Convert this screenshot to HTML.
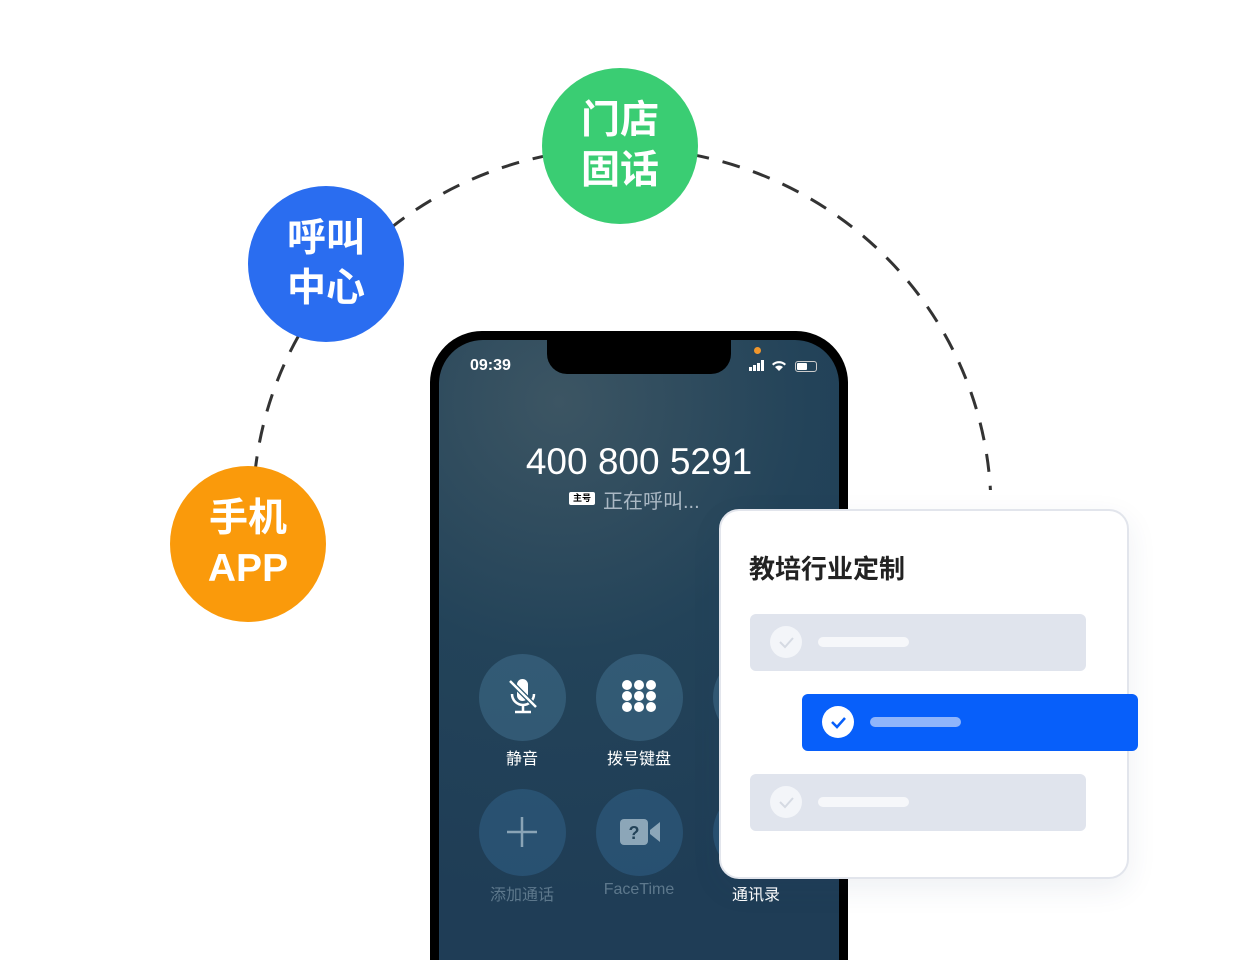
<!DOCTYPE html>
<html style="margin:0;width:1240px;height:960px;overflow:hidden"><head><meta charset="utf-8"><style>
body{margin:0;width:1240px;height:960px;background:#fff;position:relative;overflow:hidden;font-family:"Liberation Sans","Noto Sans CJK SC",sans-serif}
.ab{position:absolute}
.c{position:absolute;border-radius:50%;color:#fff;font-weight:bold;font-size:39px;line-height:50px;text-align:center;display:flex;align-items:center;justify-content:center}
.btn{position:absolute;width:87px;height:87px;border-radius:50%;background:rgba(70,120,150,.45)}
.lbl{position:absolute;width:120px;text-align:center;font-size:16px;color:#fff}
.row{position:absolute;border-radius:6px}
.chk{position:absolute;width:32px;height:32px;border-radius:50%;left:20px;top:12px}
.bar{position:absolute;left:68px;top:23px;width:91px;height:10px;border-radius:5px}
</style></head><body>
<svg class="ab" style="left:0;top:0" width="1240" height="960"><ellipse cx="622" cy="510" rx="369" ry="362" fill="none" stroke="#333" stroke-width="3" stroke-dasharray="18 14"/><rect x="0" y="490" width="1240" height="470" fill="#fff"/></svg>
<div class="c" style="left:170px;top:466px;width:156px;height:156px;background:#fa9a0b">手机<br>APP</div>
<div class="c" style="left:248px;top:186px;width:156px;height:156px;background:#2a6df0">呼叫<br>中心</div>
<div class="c" style="left:542px;top:68px;width:156px;height:156px;background:#3acd73">门店<br>固话</div>
<div class="ab" style="left:430px;top:331px;width:418px;height:629px;background:#000;border-radius:52px 52px 0 0"></div>
<div class="ab" style="left:439px;top:340px;width:400px;height:620px;border-radius:44px 44px 0 0;background:radial-gradient(circle at 30% 10%,#3c5563,#234359 40%,#1f3d56 80%)"></div>
<div class="ab" style="left:547px;top:338px;width:184px;height:36px;background:#000;border-radius:0 0 20px 20px"></div>
<div class="ab" style="left:470px;top:357px;color:#fff;font-size:16px;font-weight:bold">09:39</div>
<div class="ab" style="left:754px;top:347px;width:7px;height:7px;border-radius:50%;background:#f0962c"></div>
<svg class="ab" style="left:748px;top:358px" width="44" height="14"><g fill="#fff"><rect x="1" y="9" width="3" height="4"/><rect x="5" y="7" width="3" height="6"/><rect x="9" y="5" width="3" height="8"/><rect x="13" y="2" width="3" height="11"/><path d="M24 6a10 10 0 0 1 14 0l-1.5 1.5a8 8 0 0 0-11 0z"/><path d="M27 9a6 6 0 0 1 8 0l-4 4z"/></g></svg>
<div class="ab" style="left:795px;top:361px;width:20px;height:9px;border:1px solid #ccc;border-radius:3px"><div style="width:10px;height:7px;margin:1px;background:#fff;border-radius:1px"></div></div>
<div class="ab" style="left:439px;top:441px;width:400px;text-align:center;color:#fff;font-size:37px">400 800 5291</div>
<div class="ab" style="left:569px;top:492px;width:26px;height:13px;background:#fff;font-size:9px;font-weight:bold;text-align:center;line-height:13px;border-radius:2px">主号</div>
<div class="ab" style="left:603px;top:485px;color:#aab8c4;font-size:20px">正在呼叫...</div>
<div class="btn" style="left:479px;top:654px"></div>
<div class="btn" style="left:596px;top:654px"></div>
<div class="btn" style="left:713px;top:654px"></div>
<div class="btn" style="left:479px;top:789px;background:rgba(50,100,140,.5)"></div>
<div class="btn" style="left:596px;top:789px;background:rgba(50,100,140,.5)"></div>
<div class="btn" style="left:713px;top:789px;background:rgba(50,100,140,.5)"></div>
<svg class="ab" style="left:505px;top:677px" width="36" height="40"><rect x="12" y="2" width="11" height="22" rx="5.5" fill="#fff"/><path d="M7 17 a11 11 0 0 0 22 0" stroke="#fff" stroke-width="2.5" fill="none"/><path d="M18 28v6M10 35h16" stroke="#fff" stroke-width="2.5"/><path d="M5 4l26 26" stroke="#2d5a73" stroke-width="5"/><path d="M5 4l26 26" stroke="#fff" stroke-width="2.5"/></svg>
<svg class="ab" style="left:620px;top:678px" width="40" height="40"><g fill="#fff"><circle cx="7" cy="7" r="5"/><circle cx="19" cy="7" r="5"/><circle cx="31" cy="7" r="5"/><circle cx="7" cy="18" r="5"/><circle cx="19" cy="18" r="5"/><circle cx="31" cy="18" r="5"/><circle cx="7" cy="29" r="5"/><circle cx="19" cy="29" r="5"/><circle cx="31" cy="29" r="5"/></g></svg>
<svg class="ab" style="left:505px;top:815px" width="34" height="34"><path d="M17 2v30M2 17h30" stroke="#8aa4b6" stroke-width="2.5"/></svg>
<svg class="ab" style="left:619px;top:818px" width="44" height="28"><rect x="1" y="1" width="28" height="26" rx="4" fill="#8ca6b8"/><path d="M31 12l10-8v20l-10-8z" fill="#8ca6b8"/><text x="15" y="21" font-size="18" font-weight="bold" fill="#234359" text-anchor="middle" font-family="Liberation Sans">?</text></svg>
<div class="lbl" style="left:462px;top:745px">静音</div>
<div class="lbl" style="left:579px;top:745px">拨号键盘</div>
<div class="lbl" style="left:462px;top:881px;color:#5d788c">添加通话</div>
<div class="lbl" style="left:579px;top:881px;color:#5d788c">FaceTime</div>
<div class="lbl" style="left:696px;top:881px">通讯录</div>
<div class="ab" style="left:719px;top:509px;width:406px;height:366px;background:#fff;border:2px solid #e2e5ec;border-radius:20px;box-shadow:0 10px 30px rgba(40,60,100,.08)"></div>
<div class="ab" style="left:749px;top:549px;font-size:26px;font-weight:bold;color:#222">教培行业定制</div>
<div class="row" style="left:750px;top:614px;width:336px;height:57px;background:#e0e4ed"><div class="chk" style="background:#f3f5f9"></div><div class="bar" style="background:#f6f7fa"></div></div>
<div class="row" style="left:802px;top:694px;width:336px;height:57px;background:#075ffa"><div class="chk" style="background:#fff"><svg width="32" height="32"><path d="M10 16l5 5 8-9" stroke="#075ffa" stroke-width="2.5" fill="none"/></svg></div><div class="bar" style="background:#8fb5fb"></div></div>
<div class="row" style="left:750px;top:774px;width:336px;height:57px;background:#e0e4ed"><div class="chk" style="background:#f3f5f9"></div><div class="bar" style="background:#f6f7fa"></div></div>
<svg class="ab" style="left:770px;top:626px" width="32" height="32"><path d="M10 16l5 5 8-9" stroke="#d5dae3" stroke-width="2" fill="none"/></svg>
<svg class="ab" style="left:770px;top:786px" width="32" height="32"><path d="M10 16l5 5 8-9" stroke="#d5dae3" stroke-width="2" fill="none"/></svg>
</body></html>
